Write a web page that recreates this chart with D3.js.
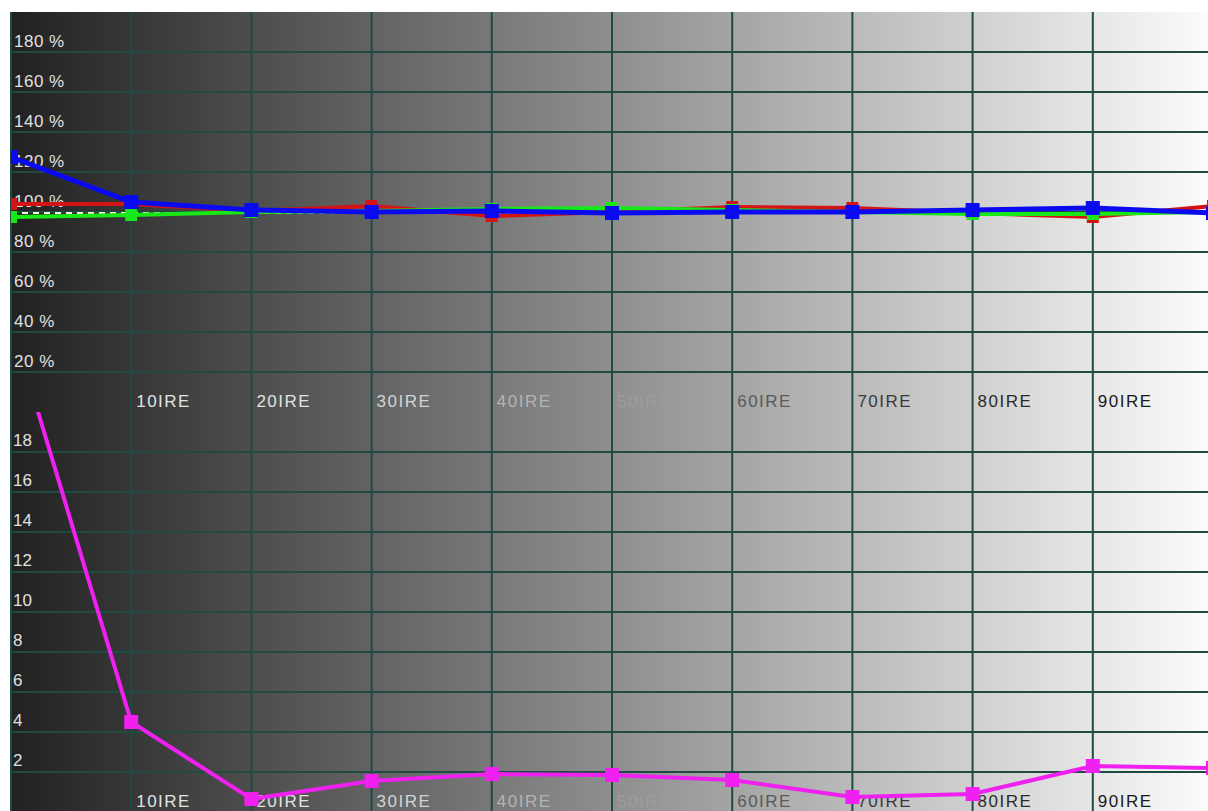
<!DOCTYPE html>
<html>
<head>
<meta charset="utf-8">
<script src="https://cdnjs.cloudflare.com/ajax/libs/d3/7.8.5/d3.min.js"></script>
<style>
  body { margin: 0; background: #fff; }
  svg { display: block; }
  text { font-family: "Liberation Sans", Arial, sans-serif; font-size: 17px; }
</style>
</head>
<body>
<div id="chart"></div>
<script>
// IRE steps on x
var ire = [0, 10, 20, 30, 40, 50, 60, 70, 80, 90, 100];
// RGB balance, percent
var red   = [104, 104, 100.5, 103, 98, 100, 102.5, 102, 99.5, 97.5, 103];
var green = [97.5, 98.5, 100, 100.5, 101.5, 102, 101, 100, 99, 99, 100];
var blue  = [127.5, 105, 101, 100, 100.5, 99.5, 100, 100, 101, 102, 99.5];
// delta E
var deltaE = [24.5, 4.5, 0.65, 1.55, 1.9, 1.85, 1.6, 0.75, 0.9, 2.3, 2.2];

var pctTicks = [20, 40, 60, 80, 100, 120, 140, 160, 180];
var deTicks = [2, 4, 6, 8, 10, 12, 14, 16, 18];
var ireTicks = [10, 20, 30, 40, 50, 60, 70, 80, 90];
var ireLabelColor = ["#e2e2e2", "#e2e2e2", "#d4d4d4", "#b4b4b4", "#9c9c9c", "#5a5a5a", "#3a3a3a", "#2a2a2a", "#1a1a1a"];

var width = 1208, height = 811;
var plotLeft = 11, plotTop = 12;

var x = d3.scaleLinear().domain([0, 100]).range([plotLeft, 1213]);
var yTop = d3.scaleLinear().domain([0, 200]).range([412, 12]);
var yBot = d3.scaleLinear().domain([0, 20]).range([812, 412]);

var svg = d3.select('#chart').append('svg')
    .attr('width', width)
    .attr('height', height);

var defs = svg.append('defs');
var grad = defs.append('linearGradient').attr('id', 'bg')
    .attr('x1', '0%').attr('x2', '100%').attr('y1', '0%').attr('y2', '0%');
grad.append('stop').attr('offset', '0%').attr('stop-color', '#212121');
grad.append('stop').attr('offset', '50%').attr('stop-color', '#8e8e8e');
grad.append('stop').attr('offset', '100%').attr('stop-color', '#fbfbfb');

defs.append('clipPath').attr('id', 'clipTop').append('rect')
    .attr('x', plotLeft).attr('y', plotTop).attr('width', width - plotLeft).attr('height', 400);
defs.append('clipPath').attr('id', 'clipBot').append('rect')
    .attr('x', plotLeft).attr('y', 412).attr('width', width - plotLeft).attr('height', 400);

svg.append('rect')
    .attr('x', plotLeft).attr('y', plotTop)
    .attr('width', width - plotLeft).attr('height', height - plotTop)
    .style('fill', 'url(#bg)');

// grid
var grid = svg.append('g').style('stroke', '#1e4c43').style('stroke-width', 2);
grid.selectAll('.v').data([0].concat(ireTicks)).enter().append('line')
    .attr('x1', function (d) { return x(d); })
    .attr('x2', function (d) { return x(d); })
    .attr('y1', plotTop).attr('y2', height);
grid.selectAll('.ht').data(pctTicks).enter().append('line')
    .attr('x1', plotLeft).attr('x2', width)
    .attr('y1', function (d) { return yTop(d); })
    .attr('y2', function (d) { return yTop(d); });
grid.selectAll('.hb').data(deTicks).enter().append('line')
    .attr('x1', plotLeft).attr('x2', width)
    .attr('y1', function (d) { return yBot(d); })
    .attr('y2', function (d) { return yBot(d); });

// y labels
svg.selectAll('.pl').data(pctTicks).enter().append('text')
    .attr('x', 14)
    .attr('y', function (d) { return yTop(d) - 5; })
    .style('fill', '#e0e0e0')
    .style('letter-spacing', '0.5px')
    .text(function (d) { return d + ' %'; });
svg.selectAll('.dl').data(deTicks).enter().append('text')
    .attr('x', 13)
    .attr('y', function (d) { return yBot(d) - 6; })
    .style('fill', '#e0e0e0')
    .text(function (d) { return d; });

// x labels, one row per panel
[yTop(0), yBot(0)].forEach(function (base) {
  svg.append('g').selectAll('text').data(ireTicks).enter().append('text')
      .attr('x', function (d) { return x(d) + 5; })
      .attr('y', base - 5)
      .style('fill', function (d, i) { return ireLabelColor[i]; })
      .style('letter-spacing', '1.5px')
      .text(function (d) { return d + 'IRE'; });
});

// top panel
var gTop = svg.append('g').attr('clip-path', 'url(#clipTop)');
var lineTop = d3.line()
    .x(function (d, i) { return x(ire[i]); })
    .y(function (d) { return yTop(d); });

gTop.append('line')
    .attr('x1', x(0)).attr('x2', x(100))
    .attr('y1', yTop(99.5)).attr('y2', yTop(99.5))
    .style('stroke', '#f4f0d0').style('stroke-width', 2)
    .style('stroke-dasharray', '6,5');

var series = [
  { vals: red, color: '#d41414', w: 4, s: 12 },
  { vals: green, color: '#18e818', w: 4, s: 12 },
  { vals: blue, color: '#0a0af0', w: 5, s: 14 }
];
series.forEach(function (sr) {
  gTop.append('path').datum(sr.vals)
      .attr('d', lineTop)
      .style('fill', 'none')
      .style('stroke', sr.color)
      .style('stroke-width', sr.w);
  gTop.append('g').selectAll('rect').data(sr.vals).enter().append('rect')
      .attr('x', function (d, i) { return x(ire[i]) - sr.s / 2; })
      .attr('y', function (d) { return yTop(d) - sr.s / 2; })
      .attr('width', sr.s).attr('height', sr.s)
      .style('fill', sr.color);
});

// bottom panel
var gBot = svg.append('g').attr('clip-path', 'url(#clipBot)');
var lineBot = d3.line()
    .x(function (d, i) { return x(ire[i]); })
    .y(function (d) { return yBot(d); });
gBot.append('path').datum(deltaE)
    .attr('d', lineBot)
    .style('fill', 'none')
    .style('stroke', '#f020f0')
    .style('stroke-width', 4);
gBot.append('g').selectAll('rect').data(deltaE).enter().append('rect')
    .attr('x', function (d, i) { return x(ire[i]) - 7; })
    .attr('y', function (d) { return yBot(d) - 7; })
    .attr('width', 14).attr('height', 14)
    .style('fill', '#f020f0');
</script>
</body>
</html>
